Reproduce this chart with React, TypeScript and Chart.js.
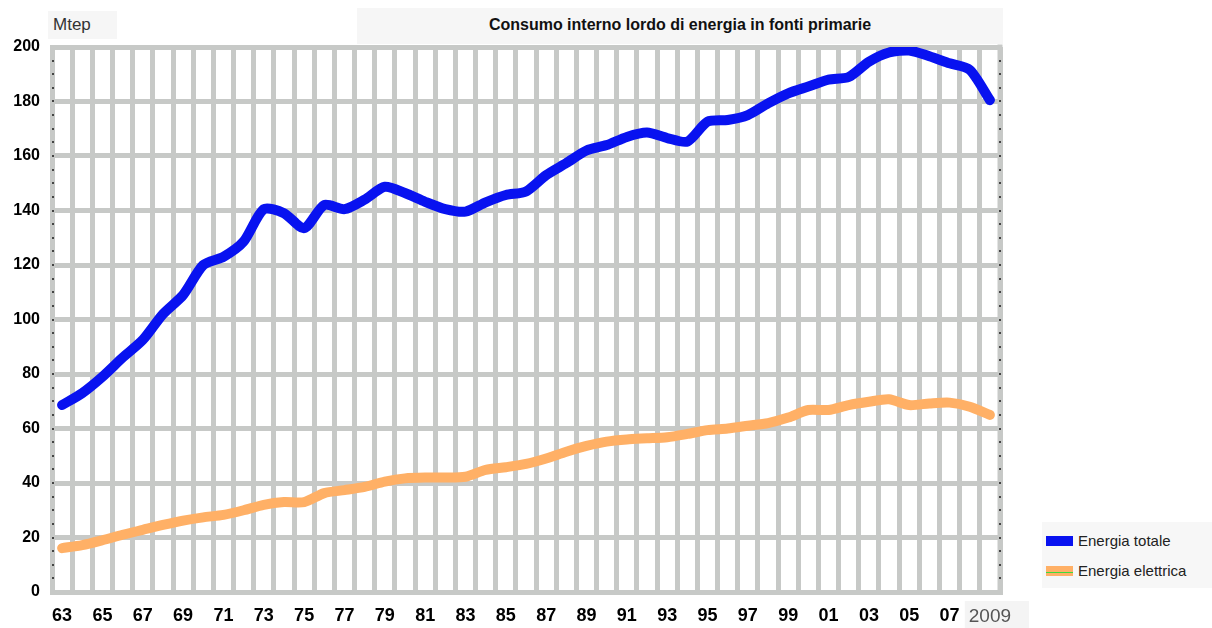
import React, { useEffect, useRef } from "react";
import { Chart, registerables } from "chart.js";

Chart.register(...registerables);

const years = [
  "1963", "1964", "1965", "1966", "1967", "1968", "1969", "1970", "1971", "1972",
  "1973", "1974", "1975", "1976", "1977", "1978", "1979", "1980", "1981", "1982",
  "1983", "1984", "1985", "1986", "1987", "1988", "1989", "1990", "1991", "1992",
  "1993", "1994", "1995", "1996", "1997", "1998", "1999", "2000", "2001", "2002",
  "2003", "2004", "2005", "2006", "2007", "2008", "2009",
];

const energiaTotale = [
  68.6, 73, 79, 86, 92.5, 102, 109, 120, 123, 128.6,
  140.5, 139, 133.5, 142, 140.5, 144, 148.7, 146.4, 143.2, 140.5,
  139.6, 143, 145.7, 147, 153, 157.4, 162, 164, 167, 168.6,
  166.6, 165.3, 172.6, 173.2, 175, 179.3, 183, 185.5, 188, 189,
  194.6, 198, 198.7, 196.6, 194, 191.6, 180.5,
];

const energiaElettrica = [
  16.1, 17.2, 19, 21, 22.8, 24.6, 26.2, 27.4, 28.3, 30,
  32, 33, 33, 36.3, 37.4, 38.6, 40.5, 41.7, 42, 42,
  42.3, 44.8, 45.8, 47, 49, 51.5, 53.6, 55.2, 56, 56.4,
  56.8, 58, 59.4, 60, 61, 62, 64, 66.8, 66.8, 68.6,
  69.8, 70.7, 68.6, 69.2, 69.5, 68, 65,
];

const xTickLabels = [
  "63", "65", "67", "69", "71", "73", "75", "77", "79", "81", "83", "85",
  "87", "89", "91", "93", "95", "97", "99", "01", "03", "05", "07", "2009",
];

const seriesNames = ["Energia totale", "Energia elettrica"];
const unitLabel = "Mtep";
const chartTitle = "Consumo interno lordo di energia in fonti primarie";

const yMin = 0;
const yMax = 200;
const yStep = 20;
const yMinorStep = 5;

const BLUE = "#0812f0";
const ORANGE = "#ffb066";
const GRID = "#c7c9c7";
const FONT = "'Liberation Sans', Arial, sans-serif";

const edgePlugin = {
  id: "edgeAndMinorTicks",
  beforeDatasetsDraw(chart: any) {
    const { ctx, chartArea } = chart;
    const y = chart.scales.y;
    ctx.save();
    ctx.fillStyle = GRID;
    ctx.fillRect(chartArea.right - 2.5, chartArea.top - 2.5, 5, chartArea.bottom - chartArea.top + 5);
    ctx.fillStyle = "#444";
    for (let v = yMin + yMinorStep; v < yMax; v += yMinorStep) {
      const py = Math.round(y.getPixelForValue(v));
      ctx.fillRect(chartArea.left, py - 1, 2, 2);
      ctx.fillRect(chartArea.right - 1, py - 1, 2, 2);
    }
    ctx.restore();
  },
};

export default function App() {
  const canvasRef = useRef<HTMLCanvasElement | null>(null);

  useEffect(() => {
    document.body.style.margin = "0";
    const canvas = canvasRef.current;
    if (!canvas) return;
    const chart = new Chart(canvas, {
      type: "line",
      data: {
        labels: years,
        datasets: [
          {
            label: seriesNames[0],
            data: energiaTotale,
            borderColor: BLUE,
            backgroundColor: BLUE,
            borderWidth: 10,
            pointRadius: 0,
            tension: 0.25,
            borderCapStyle: "round",
            borderJoinStyle: "round",
          },
          {
            label: seriesNames[1],
            data: energiaElettrica,
            borderColor: ORANGE,
            backgroundColor: ORANGE,
            borderWidth: 10,
            pointRadius: 0,
            tension: 0.25,
            borderCapStyle: "round",
            borderJoinStyle: "round",
          },
        ],
      },
      options: {
        animation: false,
        responsive: false,
        maintainAspectRatio: false,
        layout: { padding: { top: 47, right: 212, left: 0, bottom: 0 } },
        plugins: {
          legend: { display: false },
          title: { display: false },
          tooltip: { enabled: false },
        },
        scales: {
          x: {
            type: "category",
            offset: true,
            grid: { offset: true, color: GRID, lineWidth: 5, drawTicks: false },
            border: { display: true, color: GRID, width: 5 },
            afterFit: (scale: any) => {
              scale.height = 36;
            },
            ticks: {
              autoSkip: false,
              maxRotation: 0,
              minRotation: 0,
              padding: 13,
              callback: (_v: any, index: number) =>
                index % 2 === 0 ? xTickLabels[index / 2] : "",
              font: (ctx: any) =>
                ctx.index === years.length - 1
                  ? { family: FONT, size: 19, weight: "normal" }
                  : { family: FONT, size: 18, weight: "bold" },
              color: (ctx: any) => (ctx.index === years.length - 1 ? "#555" : "#000"),
              showLabelBackdrop: (ctx: any) => ctx.index === years.length - 1,
              backdropColor: "#f4f4f4",
              backdropPadding: { top: 4, bottom: 4, left: 4, right: 18 },
            },
          },
          y: {
            min: yMin,
            max: yMax,
            grid: { color: GRID, lineWidth: 5, drawTicks: false },
            border: { display: true, color: GRID, width: 5 },
            afterFit: (scale: any) => {
              scale.width = 52;
            },
            ticks: {
              stepSize: yStep,
              padding: 12,
              color: "#000",
              font: { family: FONT, size: 16, weight: "bold" },
            },
          },
        },
      },
      plugins: [edgePlugin],
    } as any);
    return () => chart.destroy();
  }, []);

  const boxBg = "#f6f6f6";

  return (
    <div
      style={{
        position: "absolute",
        left: 0,
        top: 0,
        width: 1212,
        height: 628,
        background: "#fff",
        overflow: "hidden",
        fontFamily: FONT,
      }}
    >
      <div
        style={{
          position: "absolute",
          left: 48,
          top: 11,
          width: 69,
          height: 28,
          background: boxBg,
          color: "#333",
          fontSize: 17,
          lineHeight: "28px",
          paddingLeft: 5,
          boxSizing: "border-box",
        }}
      >
        {unitLabel}
      </div>
      <div
        style={{
          position: "absolute",
          left: 357,
          top: 8,
          width: 646,
          height: 36,
          background: boxBg,
          color: "#111",
          fontSize: 16,
          fontWeight: "bold",
          lineHeight: "34px",
          textAlign: "center",
        }}
      >
        {chartTitle}
      </div>
      <canvas
        ref={canvasRef}
        width={1212}
        height={628}
        style={{ position: "absolute", left: 0, top: 0, width: 1212, height: 628 }}
      />
      <div
        style={{
          position: "absolute",
          left: 1042,
          top: 522,
          width: 170,
          height: 66,
          background: "#f7f7f7",
          color: "#222",
          fontSize: 15,
        }}
      >
        <div style={{ position: "absolute", left: 4, top: 14, width: 27, height: 10, background: BLUE }} />
        <div style={{ position: "absolute", left: 36, top: 9, lineHeight: "20px", whiteSpace: "nowrap" }}>
          {seriesNames[0]}
        </div>
        <div style={{ position: "absolute", left: 4, top: 44, width: 27, height: 10, background: ORANGE }}>
          <div style={{ position: "absolute", left: 0, top: 6, width: 27, height: 1, background: "#3ddc3d" }} />
        </div>
        <div style={{ position: "absolute", left: 36, top: 39, lineHeight: "20px", whiteSpace: "nowrap" }}>
          {seriesNames[1]}
        </div>
      </div>
    </div>
  );
}
